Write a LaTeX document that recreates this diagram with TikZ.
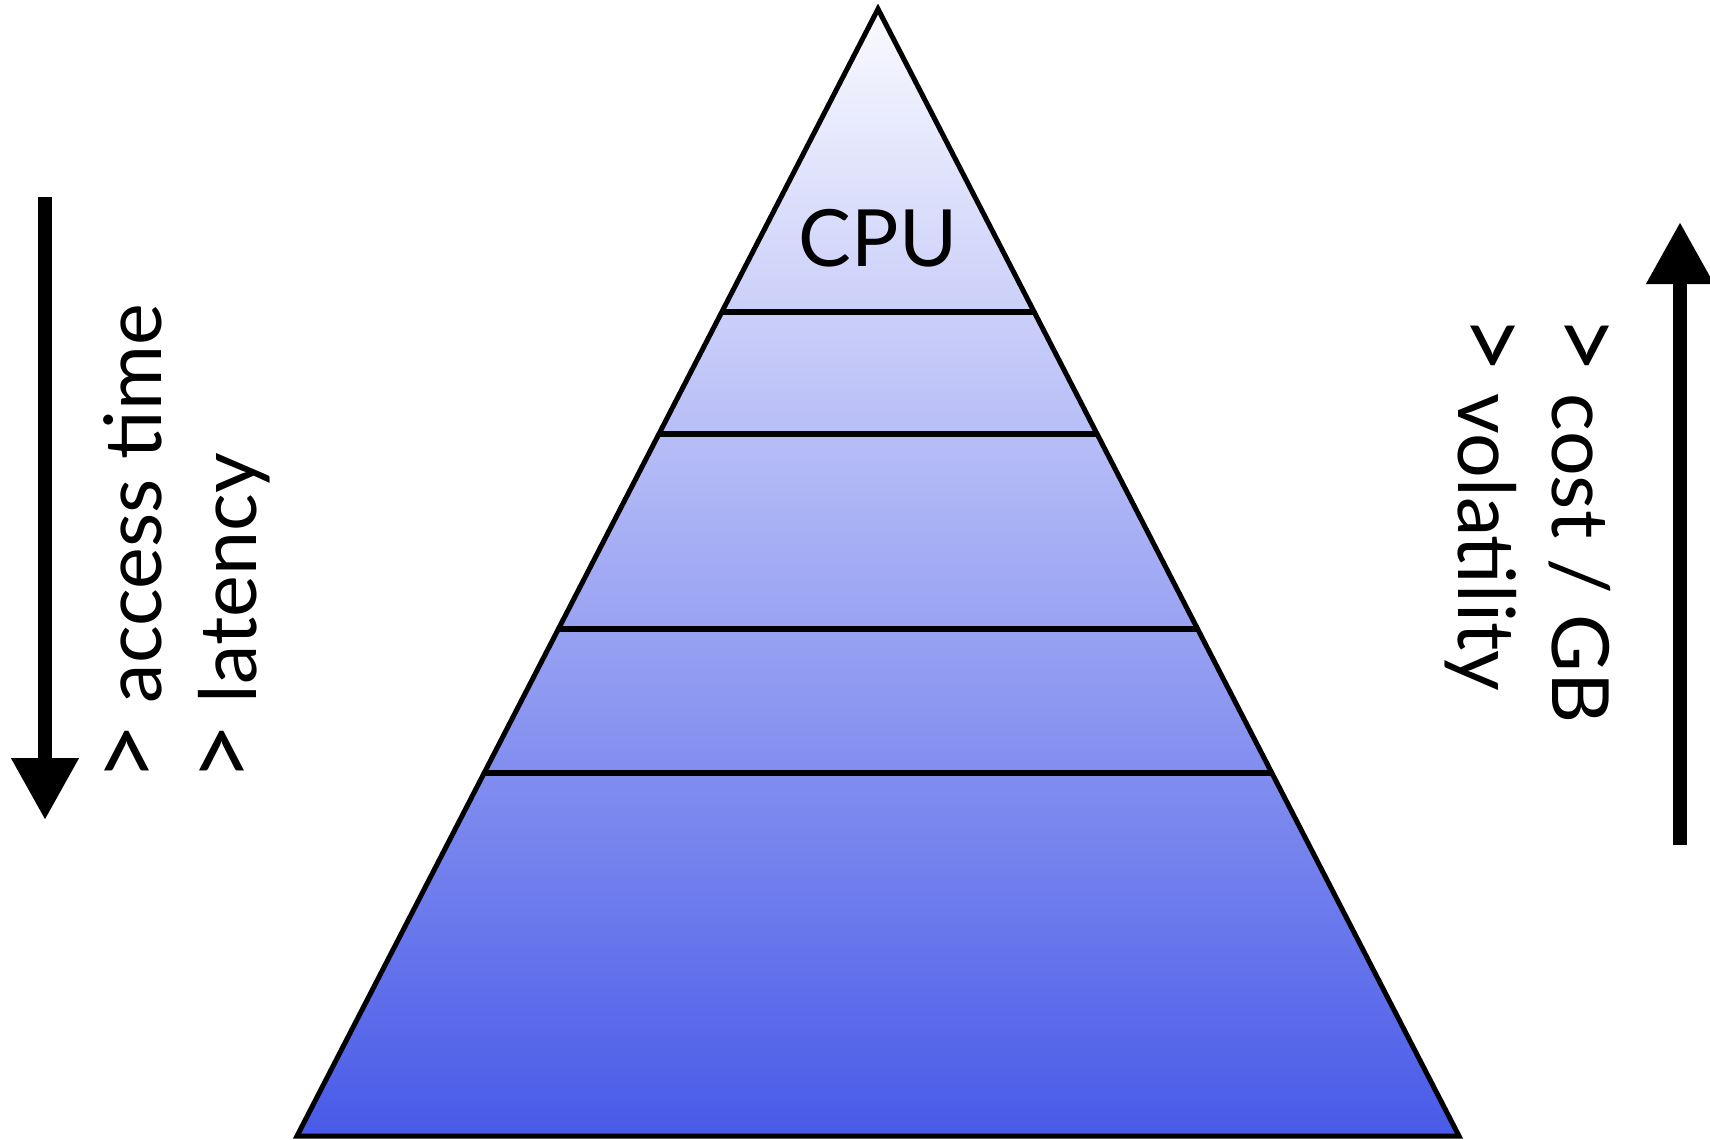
\documentclass[tikz,border=0pt]{standalone}
\usepackage{fontspec}
\setmainfont{Lato}
\usetikzlibrary{calc,arrows.meta}
\definecolor{pyrtop}{RGB}{250,250,255}
\definecolor{pyrbot}{RGB}{72,90,232}
\newcommand{\bigger}{\scalebox{1.3}{>}}
\tikzset{
  outline/.style={draw=black, line width=5pt, line join=miter},
  tier/.style={draw=black, line width=6.5pt},
  bigarrow/.style={line width=14pt, -{Triangle[width=64pt,length=62pt]}},
  lbl/.style={inner sep=0pt, font=\fontsize{79}{95}\selectfont},
}
\begin{document}
\begin{tikzpicture}[x=1pt,y=-1pt]
  \useasboundingbox (0,0) rectangle (1710,1140);

  % pyramid corners
  \coordinate (apex) at (878,9);
  \coordinate (bl) at (297,1136);
  \coordinate (br) at (1459,1136);

  % shaded body and outline
  \shade[top color=pyrtop, bottom color=pyrbot] (apex) -- (br) -- (bl) -- cycle;
  \draw[outline] (apex) -- (br) -- (bl) -- cycle;

  % tier boundaries
  \foreach \t [count=\i] in {0.2689,0.3771,0.5501,0.6779} {
    \coordinate (l\i) at ($(apex)!\t!(bl)$);
    \coordinate (r\i) at ($(apex)!\t!(br)$);
  }
  \draw[tier] (l1) -- (r1);
  \draw[tier] (l2) -- (r2);
  \draw[tier] (l3) -- (r3);
  \draw[tier] (l4) -- (r4);

  \node[lbl] (cpu) at (878,238) {CPU};

  % left side: downward trend
  \coordinate (la) at (45,197);
  \coordinate (lb) at (45,820);
  \draw[bigarrow] (la) -- (lb);
  \node[lbl, rotate=90, anchor=base west] (acc) at (161,783) {\bigger{} access time};
  \node[lbl, rotate=90, anchor=base west] (lat) at (256,783) {\bigger{} latency};

  % right side: upward trend
  \coordinate (ra) at (1680,845);
  \coordinate (rb) at (1680,222);
  \draw[bigarrow] (ra) -- (rb);
  \node[lbl, rotate=-90, anchor=base west] (cost) at (1552,314) {\bigger{} cost / GB};
  \node[lbl, rotate=-90, anchor=base west] (vol) at (1458,314) {\bigger{} volatility};
\end{tikzpicture}
\end{document}
